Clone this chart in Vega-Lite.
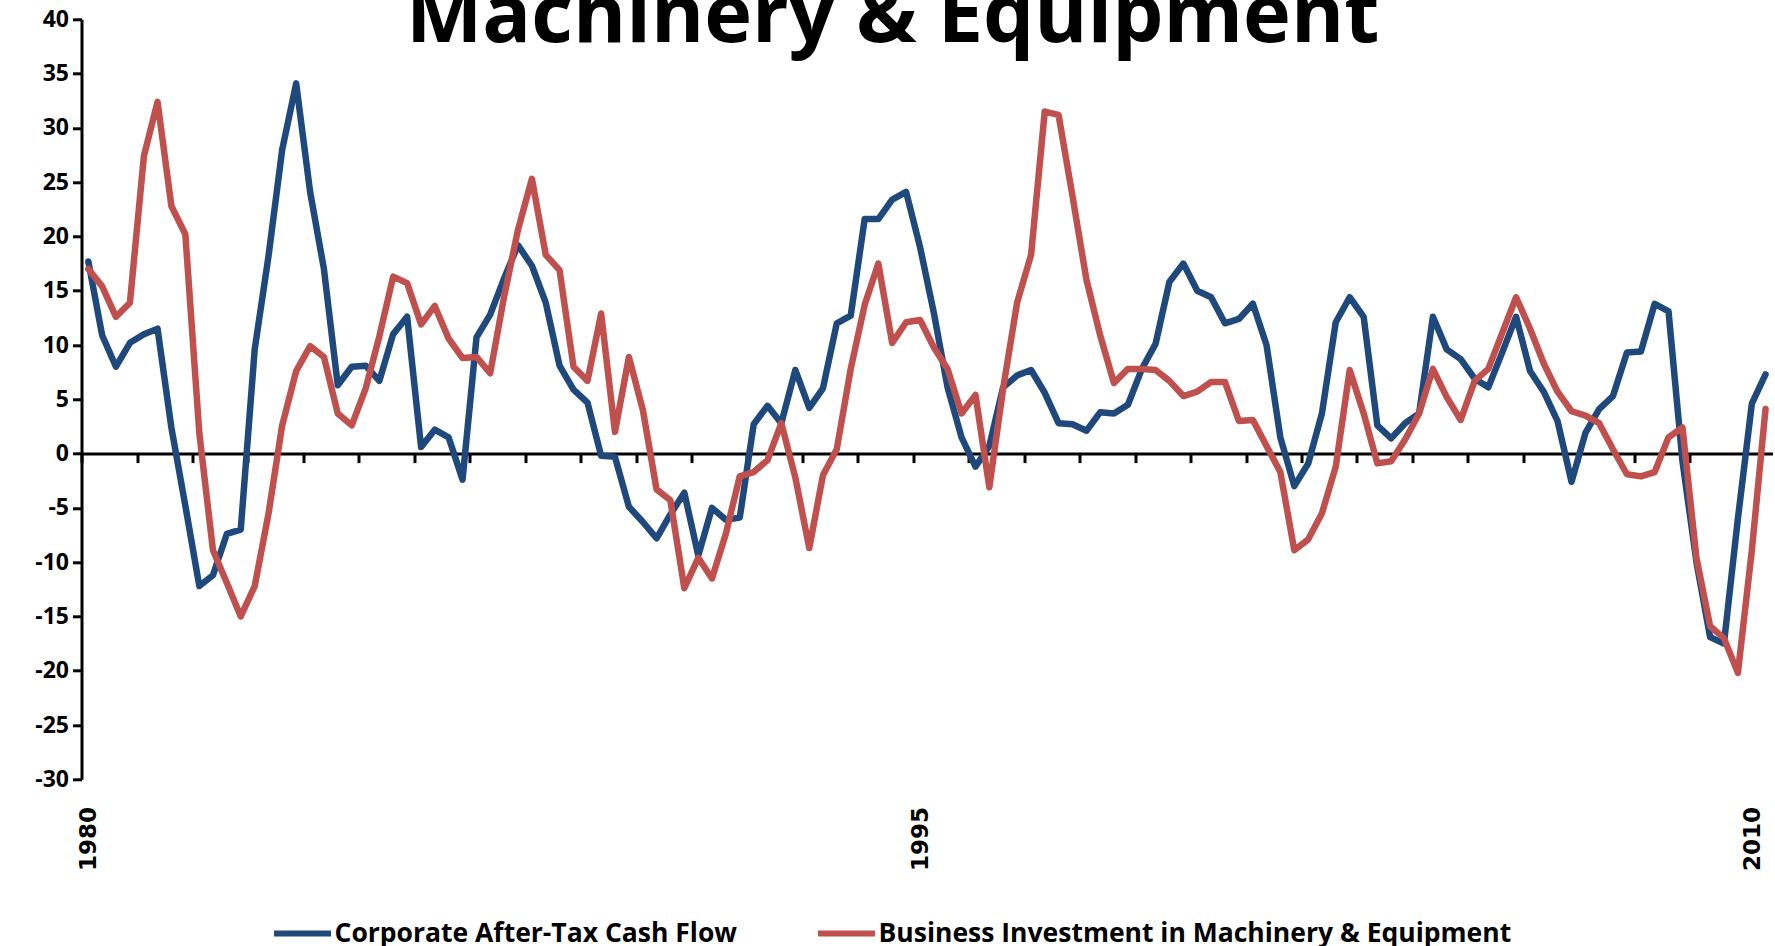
{
  "$schema": "https://vega.github.io/schema/vega-lite/v6.json",
  "width": 1691,
  "height": 760,
  "autosize": {"type": "none"},
  "padding": {"left": 81.5, "top": 19.3, "right": 2.5, "bottom": 166.7},
  "background": "white",
  "title": {
    "text": "Machinery & Equipment",
    "font": "Open Sans",
    "fontSize": 81,
    "fontWeight": "bold",
    "color": "black",
    "anchor": "middle",
    "frame": "bounds",
    "offset": 0,
    "dx": -11,
    "dy": 51
  },
  "data": {
    "values": [
      {"d": "1980-02-15", "cf": 17.7, "mi": 17.0},
      {"d": "1980-05-16", "cf": 10.9, "mi": 15.4},
      {"d": "1980-08-15", "cf": 8.0, "mi": 12.6},
      {"d": "1980-11-15", "cf": 10.2, "mi": 13.9},
      {"d": "1981-02-15", "cf": 11.0, "mi": 27.4},
      {"d": "1981-05-16", "cf": 11.5, "mi": 32.4},
      {"d": "1981-08-15", "cf": 2.4, "mi": 22.8},
      {"d": "1981-11-15", "cf": -4.8, "mi": 20.2},
      {"d": "1982-02-15", "cf": -12.2, "mi": 1.9},
      {"d": "1982-05-16", "cf": -11.2, "mi": -8.9},
      {"d": "1982-08-15", "cf": -7.4, "mi": -11.9},
      {"d": "1982-11-15", "cf": -7.0, "mi": -15.0},
      {"d": "1983-02-15", "cf": 9.6, "mi": -12.2},
      {"d": "1983-05-16", "cf": 18.1, "mi": -5.6},
      {"d": "1983-08-15", "cf": 28.0, "mi": 2.6},
      {"d": "1983-11-15", "cf": 34.1, "mi": 7.6},
      {"d": "1984-02-15", "cf": 24.1, "mi": 9.9},
      {"d": "1984-05-16", "cf": 17.0, "mi": 8.9},
      {"d": "1984-08-15", "cf": 6.3, "mi": 3.7},
      {"d": "1984-11-15", "cf": 8.0, "mi": 2.6},
      {"d": "1985-02-15", "cf": 8.1, "mi": 6.0},
      {"d": "1985-05-16", "cf": 6.7, "mi": 10.8},
      {"d": "1985-08-15", "cf": 11.0, "mi": 16.3},
      {"d": "1985-11-15", "cf": 12.6, "mi": 15.7},
      {"d": "1986-02-15", "cf": 0.6, "mi": 11.9},
      {"d": "1986-05-16", "cf": 2.2, "mi": 13.6},
      {"d": "1986-08-15", "cf": 1.5, "mi": 10.6},
      {"d": "1986-11-15", "cf": -2.4, "mi": 8.8},
      {"d": "1987-02-15", "cf": 10.7, "mi": 8.9},
      {"d": "1987-05-16", "cf": 12.8, "mi": 7.4},
      {"d": "1987-08-15", "cf": 16.1, "mi": 14.4},
      {"d": "1987-11-15", "cf": 19.2, "mi": 20.6},
      {"d": "1988-02-15", "cf": 17.3, "mi": 25.3},
      {"d": "1988-05-16", "cf": 13.9, "mi": 18.3},
      {"d": "1988-08-15", "cf": 8.1, "mi": 16.9},
      {"d": "1988-11-15", "cf": 5.9, "mi": 8.0},
      {"d": "1989-02-15", "cf": 4.7, "mi": 6.7},
      {"d": "1989-05-16", "cf": -0.2, "mi": 12.9},
      {"d": "1989-08-15", "cf": -0.3, "mi": 2.0},
      {"d": "1989-11-15", "cf": -4.9, "mi": 8.9},
      {"d": "1990-02-15", "cf": -6.3, "mi": 4.0},
      {"d": "1990-05-16", "cf": -7.8, "mi": -3.3},
      {"d": "1990-08-15", "cf": -5.6, "mi": -4.3},
      {"d": "1990-11-15", "cf": -3.6, "mi": -12.4},
      {"d": "1991-02-15", "cf": -9.4, "mi": -9.6},
      {"d": "1991-05-16", "cf": -5.0, "mi": -11.5},
      {"d": "1991-08-15", "cf": -6.1, "mi": -7.4},
      {"d": "1991-11-15", "cf": -5.9, "mi": -2.1},
      {"d": "1992-02-15", "cf": 2.7, "mi": -1.7},
      {"d": "1992-05-16", "cf": 4.4, "mi": -0.6},
      {"d": "1992-08-15", "cf": 2.8, "mi": 2.8},
      {"d": "1992-11-15", "cf": 7.7, "mi": -2.2},
      {"d": "1993-02-15", "cf": 4.2, "mi": -8.7},
      {"d": "1993-05-16", "cf": 6.0, "mi": -2.0},
      {"d": "1993-08-15", "cf": 12.0, "mi": 0.4},
      {"d": "1993-11-15", "cf": 12.7, "mi": 7.8},
      {"d": "1994-02-15", "cf": 21.6, "mi": 13.7},
      {"d": "1994-05-16", "cf": 21.6, "mi": 17.5},
      {"d": "1994-08-15", "cf": 23.4, "mi": 10.2},
      {"d": "1994-11-15", "cf": 24.1, "mi": 12.1},
      {"d": "1995-02-15", "cf": 19.0, "mi": 12.3},
      {"d": "1995-05-16", "cf": 13.0, "mi": 9.8},
      {"d": "1995-08-15", "cf": 6.1, "mi": 7.8},
      {"d": "1995-11-15", "cf": 1.5, "mi": 3.7},
      {"d": "1996-02-15", "cf": -1.2, "mi": 5.4},
      {"d": "1996-05-16", "cf": 0.7, "mi": -3.1},
      {"d": "1996-08-15", "cf": 6.1, "mi": 6.0},
      {"d": "1996-11-15", "cf": 7.2, "mi": 13.9},
      {"d": "1997-02-15", "cf": 7.7, "mi": 18.3},
      {"d": "1997-05-16", "cf": 5.6, "mi": 31.5},
      {"d": "1997-08-15", "cf": 2.8, "mi": 31.2},
      {"d": "1997-11-15", "cf": 2.7, "mi": 23.7},
      {"d": "1998-02-15", "cf": 2.1, "mi": 16.0},
      {"d": "1998-05-16", "cf": 3.8, "mi": 10.9},
      {"d": "1998-08-15", "cf": 3.7, "mi": 6.5},
      {"d": "1998-11-15", "cf": 4.5, "mi": 7.8},
      {"d": "1999-02-15", "cf": 7.8, "mi": 7.8},
      {"d": "1999-05-16", "cf": 10.1, "mi": 7.7},
      {"d": "1999-08-15", "cf": 15.8, "mi": 6.7},
      {"d": "1999-11-15", "cf": 17.5, "mi": 5.3},
      {"d": "2000-02-15", "cf": 15.0, "mi": 5.7},
      {"d": "2000-05-16", "cf": 14.4, "mi": 6.6},
      {"d": "2000-08-15", "cf": 12.0, "mi": 6.6},
      {"d": "2000-11-15", "cf": 12.4, "mi": 3.0},
      {"d": "2001-02-15", "cf": 13.8, "mi": 3.1},
      {"d": "2001-05-16", "cf": 10.0, "mi": 0.7},
      {"d": "2001-08-15", "cf": 1.5, "mi": -1.7},
      {"d": "2001-11-15", "cf": -3.0, "mi": -8.9},
      {"d": "2002-02-15", "cf": -0.9, "mi": -7.9},
      {"d": "2002-05-16", "cf": 3.7, "mi": -5.5},
      {"d": "2002-08-15", "cf": 12.1, "mi": -1.2},
      {"d": "2002-11-15", "cf": 14.4, "mi": 7.7},
      {"d": "2003-02-15", "cf": 12.6, "mi": 3.7},
      {"d": "2003-05-16", "cf": 2.6, "mi": -0.9},
      {"d": "2003-08-15", "cf": 1.4, "mi": -0.7},
      {"d": "2003-11-15", "cf": 2.8, "mi": 1.3},
      {"d": "2004-02-15", "cf": 3.7, "mi": 3.7},
      {"d": "2004-05-16", "cf": 12.6, "mi": 7.8},
      {"d": "2004-08-15", "cf": 9.6, "mi": 5.2},
      {"d": "2004-11-15", "cf": 8.7, "mi": 3.1},
      {"d": "2005-02-15", "cf": 6.9, "mi": 6.7},
      {"d": "2005-05-16", "cf": 6.1, "mi": 7.8},
      {"d": "2005-08-15", "cf": 9.3, "mi": 11.1},
      {"d": "2005-11-15", "cf": 12.6, "mi": 14.4},
      {"d": "2006-02-15", "cf": 7.6, "mi": 11.5},
      {"d": "2006-05-16", "cf": 5.7, "mi": 8.3},
      {"d": "2006-08-15", "cf": 3.0, "mi": 5.7},
      {"d": "2006-11-15", "cf": -2.6, "mi": 3.9},
      {"d": "2007-02-15", "cf": 1.9, "mi": 3.5},
      {"d": "2007-05-16", "cf": 4.1, "mi": 2.8},
      {"d": "2007-08-15", "cf": 5.3, "mi": 0.4},
      {"d": "2007-11-15", "cf": 9.3, "mi": -1.9},
      {"d": "2008-02-15", "cf": 9.4, "mi": -2.1},
      {"d": "2008-05-16", "cf": 13.8, "mi": -1.7},
      {"d": "2008-08-15", "cf": 13.1, "mi": 1.5},
      {"d": "2008-11-15", "cf": -0.7, "mi": 2.4},
      {"d": "2009-02-15", "cf": -10.0, "mi": -9.6},
      {"d": "2009-05-16", "cf": -16.9, "mi": -15.9},
      {"d": "2009-08-15", "cf": -17.5, "mi": -17.0},
      {"d": "2009-11-15", "cf": -6.0, "mi": -20.2},
      {"d": "2010-02-15", "cf": 4.6, "mi": -8.9},
      {"d": "2010-05-16", "cf": 7.3, "mi": 4.1}
    ]
  },
  "transform": [{"fold": ["cf", "mi"], "as": ["series", "value"]}],
  "mark": {"type": "line", "strokeWidth": 6.5, "strokeJoin": "round", "strokeCap": "round"},
  "encoding": {
    "x": {
      "field": "d",
      "type": "temporal",
      "scale": {
        "type": "utc",
        "domain": [
          {"year": 1980, "month": 1, "date": 1, "utc": true},
          {"year": 2010, "month": 7, "date": 1, "utc": true}
        ]
      },
      "axis": {
        "orient": "bottom",
        "offset": -325.7,
        "tickCount": {"interval": "year", "step": 1},
        "grid": false,
        "domainColor": "black",
        "domainWidth": 3,
        "tickColor": "black",
        "tickWidth": 3,
        "tickSize": 9,
        "labelExpr": "(utcyear(datum.value) == 1980 || utcyear(datum.value) == 1995 || utcyear(datum.value) == 2010) ? utcFormat(datum.value, '%Y') : ''",
        "labelAngle": -90,
        "labelAlign": "right",
        "labelBaseline": "middle",
        "labelPadding": 344,
        "labelOffset": 7,
        "labelFont": "DejaVu Sans",
        "labelFontWeight": "bold",
        "labelFontSize": 23,
        "labelColor": "black",
        "labelOverlap": false,
        "labelFlush": false,
        "title": null
      }
    },
    "y": {
      "field": "value",
      "type": "quantitative",
      "scale": {"domain": [-30, 40], "nice": false, "zero": false},
      "axis": {
        "values": [-30, -25, -20, -15, -10, -5, 0, 5, 10, 15, 20, 25, 30, 35, 40],
        "labelExpr": "datum.value + ''",
        "grid": false,
        "domainColor": "black",
        "domainWidth": 3,
        "tickColor": "black",
        "tickWidth": 3,
        "tickSize": 9,
        "labelFont": "Open Sans",
        "labelFontWeight": "bold",
        "labelFontSize": 23,
        "labelColor": "black",
        "labelPadding": 4,
        "labelOverlap": false,
        "labelFlush": false,
        "title": null
      }
    },
    "color": {
      "field": "series",
      "type": "nominal",
      "scale": {"domain": ["cf", "mi"], "range": ["#1F497D", "#C0504D"]},
      "legend": {
        "orient": "none",
        "legendX": 189,
        "legendY": 882,
        "direction": "horizontal",
        "title": null,
        "symbolType": "stroke",
        "symbolStrokeWidth": 6,
        "symbolSize": 3250,
        "labelFont": "Open Sans",
        "labelFontWeight": "bold",
        "labelFontSize": 26.5,
        "labelColor": "black",
        "labelOffset": 0,
        "columnPadding": 68,
        "labelLimit": 1000,
        "labelExpr": "datum.value == 'cf' ? 'Corporate After-Tax Cash Flow' : 'Business Investment in Machinery & Equipment'"
      }
    }
  },
  "config": {"view": {"stroke": null}}
}
